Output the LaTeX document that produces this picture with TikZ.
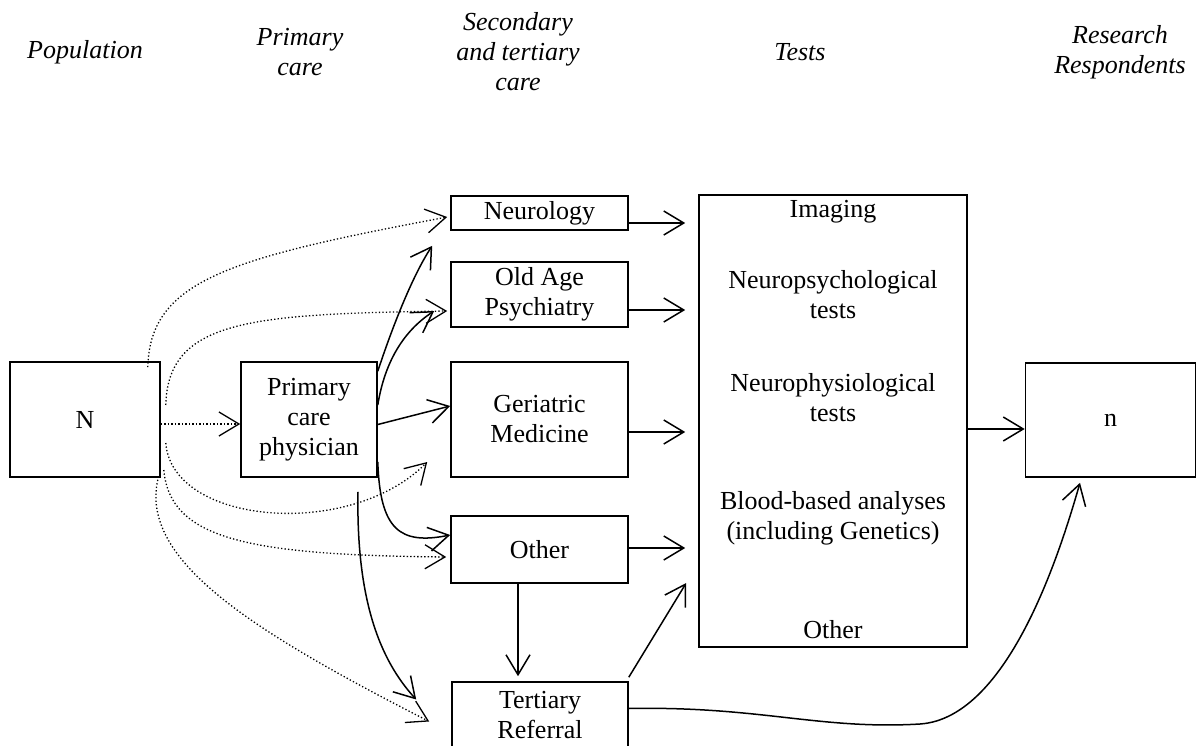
\documentclass[tikz,border=0pt]{standalone}
\usepackage{fontspec}
\setmainfont{Liberation Serif}
\usetikzlibrary{arrows.meta}
\newcommand{\dgfont}{\fontsize{26}{30}\selectfont}
\begin{document}
\begin{tikzpicture}[x=1pt,y=-1pt,
  box/.style={draw, line width=1.6pt, inner sep=0pt, align=center, font=\dgfont},
  lbl/.style={inner sep=0pt, align=center, font=\dgfont},
  hdr/.style={inner sep=0pt, align=center, font=\dgfont\itshape},
  arr/.style={-{Straight Barb[length=20pt,width=24pt]}, line width=1.5pt},
  dotarr/.style={-{Straight Barb[length=20pt,width=24pt]}, line width=1.3pt, dash pattern=on 1.3pt off 2.2pt}]
\fill[white] (0,0) rectangle (1197,746);
\useasboundingbox (0,0) rectangle (1197,746);

% headers
\node[hdr] (hpop) at (85,52) {Population};
\node[hdr] (hprim) at (300,52) {Primary\\care};
\node[hdr] (hsec) at (518,52) {Secondary\\and tertiary\\care};
\node[hdr] (htest) at (800,52) {Tests};
\node[hdr] (hres) at (1120,52) {Research\\Respondents};

% boxes
\node[box, minimum width=150, minimum height=115] (N) at (85,419.5) {N};
\node[box, minimum width=136, minimum height=115] (pc) at (309,419.5) {Primary\\care\\physician};
\node[box, minimum width=177, minimum height=34] (neuro) at (539.5,213) {Neurology};
\node[box, minimum width=177, minimum height=65] (oap) at (539.5,294.5) {Old Age\\Psychiatry};
\node[box, minimum width=177, minimum height=115] (ger) at (539.5,419.5) {Geriatric\\Medicine};
\node[box, minimum width=177, minimum height=67] (oth) at (539.5,549.5) {Other};
\node[box, minimum width=176, minimum height=66] (ter) at (540,715) {Tertiary\\Referral};
\node[box, minimum width=268, minimum height=452] (tests) at (833,421) {};
\node[box, minimum width=170, minimum height=114] (n) at (1110.5,420) {n};

% tests contents
\node[lbl] (timg) at (833,212) {Imaging};
\node[lbl] (tnps) at (833,295) {Neuropsychological\\tests};
\node[lbl] (tnph) at (833,398) {Neurophysiological\\tests};
\node[lbl] (tblood) at (833,518) {Blood-based analyses\\(including Genetics)};
\node[lbl] (toth) at (833,630) {Other};

% solid arrows to tests and n
\draw[arr, shorten >=13pt] ([yshift=-10pt]neuro.east) -- ([yshift=-10pt]neuro.east -| tests.west);
\draw[arr, shorten >=13pt] ([yshift=-15.5pt]oap.east) -- ([yshift=-15.5pt]oap.east -| tests.west);
\draw[arr, shorten >=13pt] ([yshift=-12.5pt]ger.east) -- ([yshift=-12.5pt]ger.east -| tests.west);
\draw[arr, shorten >=13pt] ([yshift=1.5pt]oth.east) -- ([yshift=1.5pt]oth.east -| tests.west);
\draw[arr] ([yshift=-8pt]tests.east) -- ([yshift=-8pt]tests.east -| n.west);
\draw[arr, shorten >=5pt] ([xshift=-21.5pt]oth.south) -- ([xshift=-21.5pt]oth.south |- ter.north);
\draw[arr] ([yshift=4pt]ter.north east) -- ([xshift=-12pt,yshift=-162pt]tests.west);
\draw[arr] ([yshift=6.5pt]ter.east) .. controls (760,706) and (820,730) .. (920,724)
  .. controls (1010,718) and (1062,545) .. ([xshift=-30.5pt,yshift=-5pt]n.south);

% solid arrows from primary care
\draw[arr] ([yshift=-10pt]pc.north east) .. controls (393,325) and (413,275) .. ([xshift=-18pt,yshift=-15pt]neuro.south west);
\draw[arr] ([yshift=14.5pt]pc.east) .. controls (385,360) and (405,330) .. ([xshift=-16pt,yshift=-16.5pt]oap.west);
\draw[arr] ([yshift=-5pt]pc.east) -- ([yshift=13.5pt]ger.west);
\draw[arr] ([yshift=-42.5pt]pc.east) .. controls (380,530) and (400,545) .. ([yshift=14.5pt]oth.west);
\draw[arr] ([xshift=49pt,yshift=-14pt]pc.south) .. controls (356,600) and (380,660) .. ([xshift=-35pt,yshift=15.5pt]ter.west);

% dotted arrows from N
\draw[dotarr] ([xshift=-13pt,yshift=-6pt]N.north east) .. controls (150,280) and (230,258) .. ([xshift=-3pt,yshift=-4pt]neuro.west);
\draw[dotarr] ([xshift=5pt,yshift=14.5pt]N.east) .. controls (168,320) and (250,314) .. ([xshift=-3pt,yshift=-16.5pt]oap.west);
\draw[dotarr] ([yshift=-4.5pt]N.east) -- ([yshift=-4.5pt]N.east -| pc.west);
\draw[dotarr] ([xshift=5pt,yshift=-23.5pt]N.east) .. controls (172,525) and (350,540) .. ([xshift=-23pt,yshift=-42.5pt]ger.west);
\draw[dotarr] ([xshift=3pt,yshift=-50.5pt]N.east) .. controls (170,540) and (250,555) .. ([xshift=-4pt,yshift=-7.5pt]oth.west);
\draw[dotarr] ([xshift=-3pt,yshift=-2pt]N.south east) .. controls (140,560) and (250,630) .. ([xshift=-22pt,yshift=-6.5pt]ter.west);
\end{tikzpicture}
\end{document}
